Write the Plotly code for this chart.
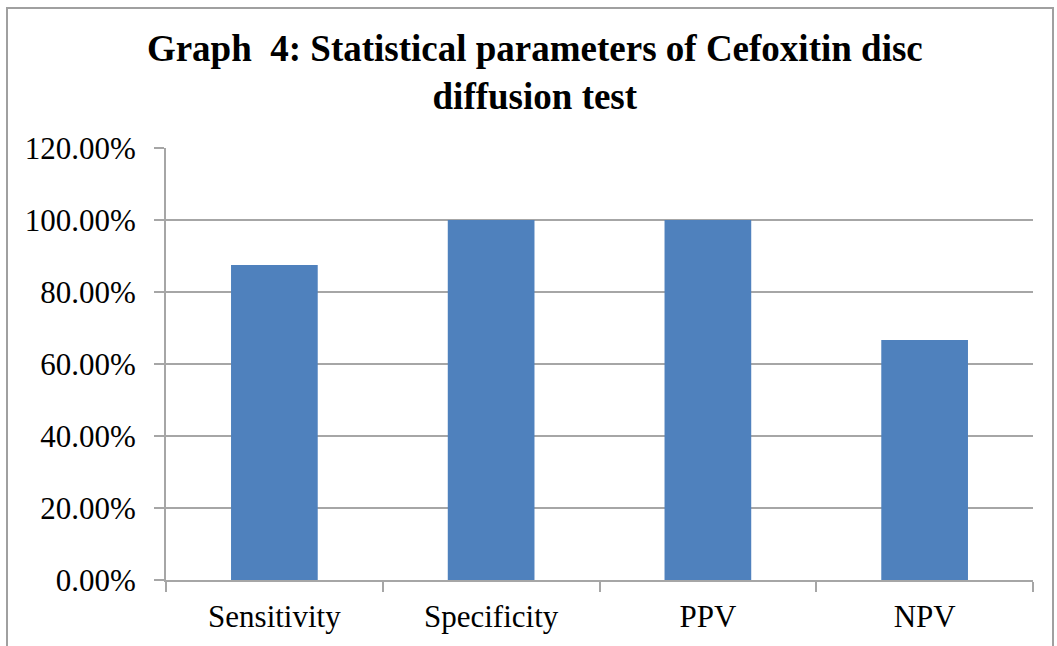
import plotly.graph_objects as go

# Diagnostic performance of the cefoxitin disc diffusion test
categories = ["Sensitivity", "Specificity", "PPV", "NPV"]
values_pct = [87.5, 100.0, 100.0, 66.67]
tick_vals = [0, 20, 40, 60, 80, 100, 120]
tick_text = ["0.00%", "20.00%", "40.00%", "60.00%", "80.00%", "100.00%", "120.00%"]

bar_color = "#4F81BD"
grid_color = "#A6A6A6"
serif = "Liberation Serif, Times New Roman, serif"

fig = go.Figure(
    go.Bar(
        x=categories,
        y=values_pct,
        marker=dict(color=bar_color, line=dict(width=0)),
        width=0.4,
    )
)

W, H = 1057, 646
ml, mr, mt, mb = 166, 24, 148, 66
pw, ph = W - ml - mr, H - mt - mb

def px_x(x):
    return (x - ml) / pw

def px_y(y):
    return (H - mb - y) / ph

fig.update_layout(
    width=W,
    height=H,
    margin=dict(l=ml, r=mr, t=mt, b=mb),
    paper_bgcolor="white",
    plot_bgcolor="white",
    showlegend=False,
    title=dict(
        text="Graph\u00a0\u00a04: Statistical parameters of Cefoxitin disc<br>diffusion test",
        font=dict(family=serif, size=37, color="black", weight="bold"),
        x=0.506,
        xanchor="center",
        y=0.905,
        yanchor="top",
    ),
    xaxis=dict(
        tickfont=dict(family=serif, size=31, color="black"),
        showline=True,
        linecolor=grid_color,
        linewidth=2,
        ticks="outside",
        tickson="boundaries",
        ticklen=10,
        tickcolor=grid_color,
        tickwidth=2,
        ticklabelstandoff=8,
        showgrid=False,
    ),
    yaxis=dict(
        range=[0, 120],
        tickvals=tick_vals,
        ticktext=tick_text,
        tickfont=dict(family=serif, size=31, color="black"),
        showline=True,
        linecolor=grid_color,
        linewidth=2,
        ticks="outside",
        ticklen=10,
        tickcolor=grid_color,
        tickwidth=2,
        ticklabelstandoff=12,
        showgrid=True,
        gridcolor=grid_color,
        gridwidth=2,
        zeroline=False,
    ),
    shapes=[
        dict(
            type="rect",
            xref="paper",
            yref="paper",
            x0=px_x(7),
            x1=px_x(1053),
            y0=px_y(660),
            y1=px_y(8),
            line=dict(color="#A0A0A0", width=2),
            fillcolor="rgba(0,0,0,0)",
            layer="below",
        )
    ],
)

fig.write_html("out.html")
